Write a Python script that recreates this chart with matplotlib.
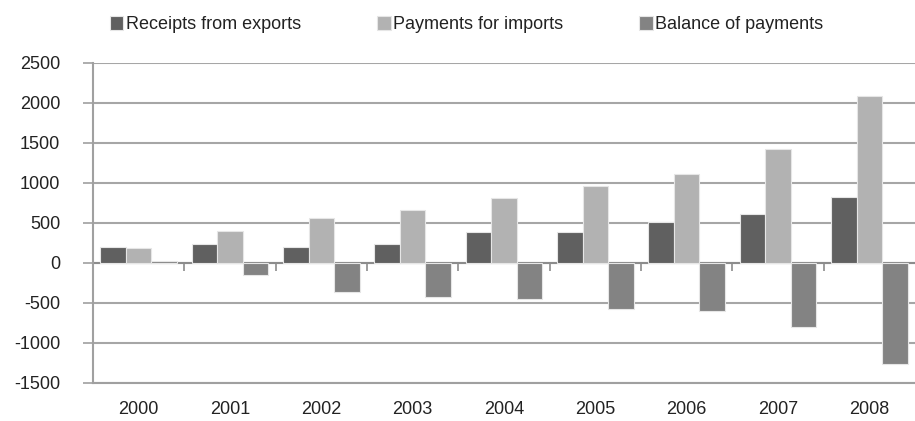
import numpy as np
import matplotlib
matplotlib.use("Agg")
import matplotlib.pyplot as plt
from matplotlib.ticker import FixedLocator

years = ["2000", "2001", "2002", "2003", "2004", "2005", "2006", "2007", "2008"]
exports = [200, 233, 200, 233, 383, 383, 512, 612, 829]
imports = [185, 396, 567, 662, 812, 962, 1117, 1429, 2087]
balance = [25, -154, -367, -429, -446, -579, -604, -804, -1267]

series_names = ["Receipts from exports", "Payments for imports", "Balance of payments"]
colors = ["#606060", "#b2b2b2", "#838383"]

plt.rcParams["font.family"] = ["Liberation Sans", "DejaVu Sans"]
plt.rcParams["axes.unicode_minus"] = False

fig = plt.figure(figsize=(9.15, 4.21), dpi=100)
ax = fig.add_axes([0.1016, 0.0903, 0.8984, 0.7601])

x = np.arange(len(years))
w = 0.28
for i, (vals, name, c) in enumerate(zip([exports, imports, balance], series_names, colors)):
    ax.bar(x + (i - 1) * w, vals, width=w, color=c, edgecolor="#e6e6e6",
           linewidth=0.8, label=name, zorder=3)

ax.set_xlim(-0.5, len(years) - 0.5)
ax.set_ylim(-1500, 2500)
ax.set_yticks(np.arange(-1500, 2501, 500))
ax.grid(axis="y", color="#a6a6a6", linewidth=1.5, zorder=0)
ax.axhline(0, color="#8c8c8c", linewidth=1.5, zorder=2)

for s in ["top", "right"]:
    ax.spines[s].set_visible(False)
for s in ["left", "bottom"]:
    ax.spines[s].set_color("#a0a0a0")
    ax.spines[s].set_linewidth(1.5)

ax.set_xticks(x)
ax.set_xticklabels(years)
ax.tick_params(axis="x", length=0, pad=13, labelsize=13, labelcolor="#222222")
ax.tick_params(axis="y", length=7, width=1.2, color="#a0a0a0", pad=16.5,
               labelsize=13, labelcolor="#222222")

# small category separator ticks on the zero line
sec = ax.secondary_xaxis(1500 / 4000)
sec.spines["bottom"].set_visible(False)
sec.xaxis.set_major_locator(FixedLocator(x[1:] - 0.5))
sec.tick_params(axis="x", direction="out", length=6, width=1.2, color="#8c8c8c",
                labelbottom=False)

fig.legend(loc="upper center", bbox_to_anchor=(0.51, 1.0), ncol=3, frameon=False,
           fontsize=13, handlelength=0.75, handleheight=0.75, handletextpad=0.15,
           columnspacing=4.2, labelcolor="#222222")

fig.savefig("out.png", dpi=100)
